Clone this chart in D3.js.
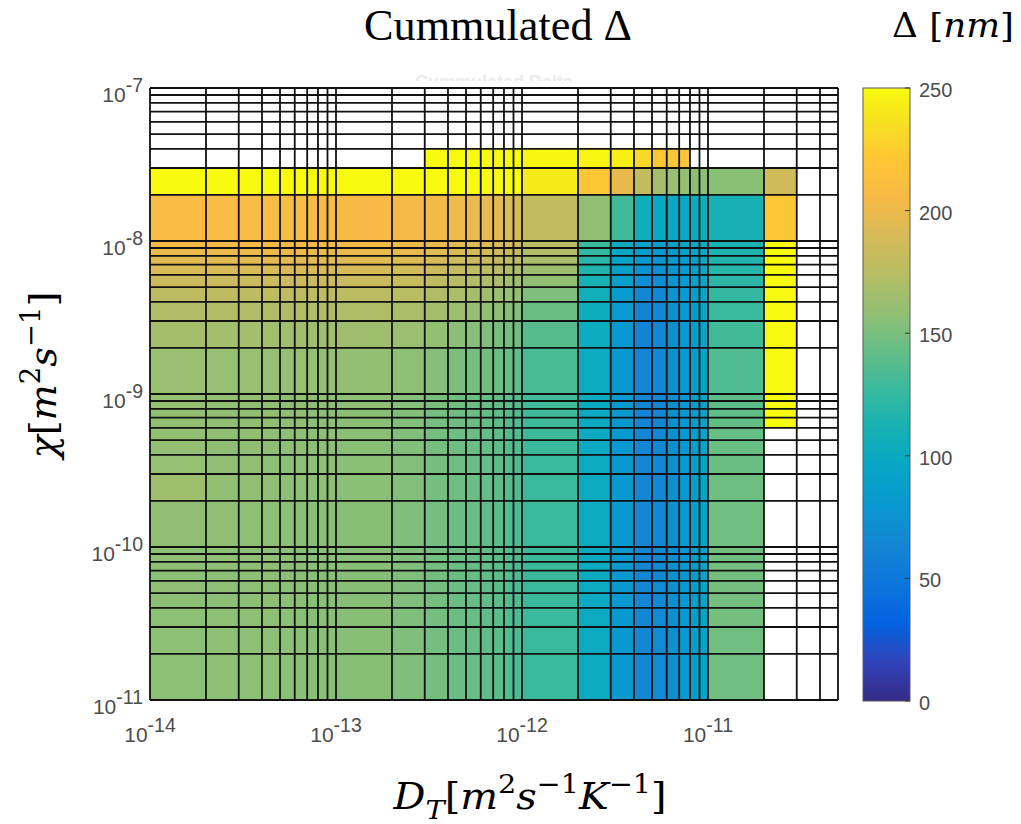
<!DOCTYPE html>
<html><head><meta charset="utf-8">
<script src="https://cdn.jsdelivr.net/npm/d3@7"></script>
<style>body{margin:0;background:#fff}</style>
</head><body>
<svg id="c" width="1021" height="824"></svg>
<script>
const N = null;
// grid edges of the pcolor cells (D_T, m^2 s^-1 K^-1)
const dtEdges = [1e-14,2e-14,3e-14,4e-14,5e-14,6e-14,7e-14,8e-14,9e-14,
  1e-13,2e-13,3e-13,4e-13,5e-13,6e-13,7e-13,8e-13,9e-13,
  1e-12,2e-12,3e-12,4e-12,5e-12,6e-12,7e-12,8e-12,9e-12,
  1e-11,2e-11,3e-11,4e-11,5e-11];
// chi edges, top to bottom (m^2 s^-1)
const chiEdges = [1e-7,9e-8,8e-8,7e-8,6e-8,5e-8,4e-8,3e-8,2e-8,
  1e-8,9e-9,8e-9,7e-9,6e-9,5e-9,4e-9,3e-9,2e-9,
  1e-9,9e-10,8e-10,7e-10,6e-10,5e-10,4e-10,3e-10,2e-10,
  1e-10,9e-11,8e-11,7e-11,6e-11,5e-11,4e-11,3e-11,2e-11,1e-11];
// cumulated Delta [nm], rows top to bottom, columns left to right
const delta = [
[N,N,N,N,N,N,N,N,N,N,N,N,N,N,N,N,N,N,N,N,N,N,N,N,N,N,N,N,N,N,N],
[N,N,N,N,N,N,N,N,N,N,N,N,N,N,N,N,N,N,N,N,N,N,N,N,N,N,N,N,N,N,N],
[N,N,N,N,N,N,N,N,N,N,N,N,N,N,N,N,N,N,N,N,N,N,N,N,N,N,N,N,N,N,N],
[N,N,N,N,N,N,N,N,N,N,N,N,N,N,N,N,N,N,N,N,N,N,N,N,N,N,N,N,N,N,N],
[N,N,N,N,N,N,N,N,N,N,N,N,N,N,N,N,N,N,N,N,N,N,N,N,N,N,N,N,N,N,N],
[N,N,N,N,N,N,N,N,N,N,N,N,N,N,N,N,N,N,N,N,N,N,N,N,N,N,N,N,N,N,N],
[N,N,N,N,N,N,N,N,N,N,N,250,250,250,250,250,250,250,248,247,244,232,222,220,218,N,N,N,N,N,N],
[250,250,250,250,250,250,250,250,250,250,250,250,250,250,250,250,250,250,241,220,198,180,167,162,160,158,157,156,186,N,N],
[207,207,207,207,207,207,206,206,206,206,205,203,201,199,197,195,193,191,180,158,130,107,98,97,99,103,106,112,220,N,N],
[205,205,205,205,205,205,205,205,205,204,202,199,196,194,192,190,188,186,176,128,100,90,86,88,92,97,102,113,250,N,N],
[200,200,200,200,200,200,200,200,200,199,197,194,191,189,187,185,183,181,172,124,96,85,80,83,88,93,99,115,250,N,N],
[195,195,195,195,195,195,195,195,195,194,192,189,186,184,182,180,178,176,168,120,92,80,76,80,85,91,97,117,250,N,N],
[190,190,190,190,190,190,190,190,190,189,187,184,181,179,177,175,173,171,163,116,89,76,73,78,84,89,96,119,250,N,N],
[184,184,184,184,184,184,184,184,184,183,181,178,175,173,171,169,167,165,158,112,86,72,70,76,82,88,95,122,250,N,N],
[178,178,178,178,178,178,178,178,178,177,175,172,169,167,165,163,161,159,152,108,83,66,66,75,81,87,94,125,250,N,N],
[172,172,172,172,172,172,172,172,172,171,169,166,163,161,159,157,155,153,145,104,81,62,64,73,80,86,94,128,250,N,N],
[167,166,166,166,165,165,165,165,165,164,162,159,156,154,152,150,148,146,138,102,80,62,64,73,80,86,93,130,250,N,N],
[162,161,161,160,160,160,160,160,160,159,157,154,151,149,147,145,143,141,133,101,80,63,65,73,80,86,93,135,250,N,N],
[160,159,159,158,158,158,158,158,158,157,154,150,147,145,143,141,139,136,130,100,80,63,65,73,80,86,93,140,250,N,N],
[160,159,158,158,158,158,158,158,158,157,154,150,147,145,143,141,139,136,130,100,80,63,65,73,80,86,93,140,250,N,N],
[159,159,158,158,158,158,157,157,157,156,153,149,146,144,142,140,138,135,129,100,80,63,65,73,80,86,93,141,250,N,N],
[159,158,158,158,157,157,157,157,157,156,153,149,146,144,142,140,138,135,129,100,80,63,65,73,80,86,93,142,250,N,N],
[159,158,158,157,157,157,157,157,157,156,153,149,146,144,142,140,138,135,129,100,80,64,66,73,80,86,93,143,N,N,N],
[160,158,158,157,157,157,157,157,157,156,153,149,146,144,142,140,138,135,128,100,80,64,66,73,80,86,93,144,N,N,N],
[161,158,158,157,157,157,157,157,157,156,153,149,146,144,142,140,138,135,128,100,80,64,66,73,80,86,93,145,N,N,N],
[164,159,158,158,157,157,157,157,157,156,153,149,146,144,142,140,138,135,128,100,80,64,66,73,80,86,93,146,N,N,N],
[158,158,157,157,157,156,156,156,156,155,152,148,145,143,141,139,137,134,128,100,80,64,66,73,80,86,93,147,N,N,N],
[157,157,157,157,157,156,156,156,156,155,152,148,145,143,141,139,137,134,128,100,80,65,67,73,80,86,93,147,N,N,N],
[158,157,157,157,157,156,156,156,156,155,152,148,145,143,141,139,137,134,128,100,80,65,67,73,80,86,93,147,N,N,N],
[157,157,157,157,156,156,156,156,156,155,152,148,145,143,141,139,137,134,128,100,80,65,67,73,80,86,93,148,N,N,N],
[157,157,157,157,157,156,156,156,156,155,152,148,145,143,141,139,137,134,128,100,80,65,67,73,80,86,93,148,N,N,N],
[158,157,157,157,157,156,156,156,156,155,152,148,145,143,141,139,137,134,128,100,80,65,67,73,80,86,93,148,N,N,N],
[157,157,157,157,157,156,156,156,156,155,152,148,145,143,141,139,137,134,128,100,80,65,67,73,80,86,93,148,N,N,N],
[157,157,157,157,157,156,156,156,156,155,152,148,145,143,141,139,137,134,128,100,80,65,67,73,80,86,93,148,N,N,N],
[157,157,157,157,157,156,156,156,156,155,152,148,145,143,141,139,137,134,128,100,80,65,67,73,80,86,93,147,N,N,N],
[157,157,157,157,157,156,156,156,156,155,152,148,145,143,141,139,137,134,128,100,80,65,67,73,80,86,93,147,N,N,N]
];
const xTicks = [1e-14,1e-13,1e-12,1e-11];
const xTickExp = ["-14","-13","-12","-11"];
const yTicks = [1e-7,1e-8,1e-9,1e-10,1e-11];
const yTickExp = ["-7","-8","-9","-10","-11"];
const cbTicks = [0,50,100,150,200,250];
const cbTickLabels = ["0","50","100","150","200","250"];
// parula colormap samples (index out of 0..63)
const parulaPos = [0,4,8,12,16,20,24,28,32,36,40,44,48,52,56,60,63];
const parulaStops = ["#352A87","#3243BA","#0363E1","#0D75DC","#1485D4","#0998D1","#06A7C6","#15B1B4",
  "#38B99E","#65BE86","#92BF73","#B7BD64","#D9BA56","#F8BA44","#FEC832","#F5E41D","#F9FB0E"];

const svg = d3.select("#c");
const x = d3.scaleLog().domain([1e-14, 5e-11]).range([150, 838]);
const y = d3.scaleLog().domain([1e-11, 1e-7]).range([700, 88]);
const cMax = 250;
const color = d3.scaleLinear().domain(parulaPos.map(p => p / 63 * cMax)).range(parulaStops).clamp(true);

// faint ghost title
const defs = svg.append("defs");
defs.append("clipPath").attr("id","ghostClip").append("rect").attr("x",0).attr("y",75).attr("width",1021).attr("height",6);
svg.append("text").attr("x",494).attr("y",88).attr("text-anchor","middle")
  .attr("font-family","Liberation Sans, Arial, sans-serif").attr("font-weight","bold").attr("font-size",18)
  .attr("fill","#ebebeb").attr("clip-path","url(#ghostClip)").text("Cummulated Delta");

// cells
const cells = [];
delta.forEach((row, i) => row.forEach((v, j) => { if (v !== null) cells.push({i, j, v}); }));
svg.append("g").attr("shape-rendering","crispEdges").selectAll("rect").data(cells).join("rect")
  .attr("x", d => x(dtEdges[d.j]))
  .attr("y", d => y(chiEdges[d.i]))
  .attr("width", d => x(dtEdges[d.j + 1]) - x(dtEdges[d.j]))
  .attr("height", d => y(chiEdges[d.i + 1]) - y(chiEdges[d.i]))
  .attr("fill", d => color(d.v));

// grid / cell edges
const grid = svg.append("g").attr("stroke","#111").attr("stroke-width",1.8);
grid.selectAll("line.v").data(dtEdges).join("line").attr("class","v")
  .attr("x1", d => x(d)).attr("x2", d => x(d)).attr("y1", y(1e-7)).attr("y2", y(1e-11));
grid.selectAll("line.h").data(chiEdges).join("line").attr("class","h")
  .attr("y1", d => y(d)).attr("y2", d => y(d)).attr("x1", x(1e-14)).attr("x2", x(5e-11));

// tick labels
const tickFont = "Liberation Sans, Arial, Helvetica, sans-serif";
const xl = svg.append("g").attr("font-family", tickFont).attr("fill","#4d4d4d");
xTicks.forEach((t, k) => {
  const tx = xl.append("text").attr("x", x(t)).attr("y", 742).attr("text-anchor","middle").attr("font-size",21);
  tx.append("tspan").text("10");
  tx.append("tspan").attr("dy",-10).attr("font-size",19.5).text(xTickExp[k]);
});
yTicks.forEach((t, k) => {
  const tx = xl.append("text").attr("x", 143).attr("y", y(t) + 14).attr("text-anchor","end").attr("font-size",21);
  tx.append("tspan").text("10");
  tx.append("tspan").attr("dy",-10).attr("font-size",19.5).text(yTickExp[k]);
});

// colorbar
const cb = d3.scaleLinear().domain([0, cMax]).range([701, 88]);
const grad = defs.append("linearGradient").attr("id","parula").attr("x1",0).attr("y1",1).attr("x2",0).attr("y2",0);
parulaPos.forEach((p, k) => grad.append("stop").attr("offset", p / 63).attr("stop-color", parulaStops[k]));
svg.append("rect").attr("x",863).attr("y",cb(cMax)).attr("width",47).attr("height",cb(0)-cb(cMax))
  .attr("fill","url(#parula)").attr("stroke","#5a5a5a").attr("stroke-width",1);
const cbg = svg.append("g");
cbg.selectAll("line").data(cbTicks).join("line")
  .attr("x1",910).attr("x2",905).attr("y1", d => cb(d)).attr("y2", d => cb(d))
  .attr("stroke","#333").attr("stroke-width",1);
cbg.selectAll("text").data(cbTicks).join("text")
  .attr("x",919).attr("y", d => cb(d) + 9).attr("font-family", tickFont).attr("font-size",20)
  .attr("fill","#4d4d4d").text((d, k) => cbTickLabels[k]);

// rich text helper: builds tspans, then stretches horizontally to the target width
function rich(text, parts, fs) {
  text.selectAll("tspan").remove();
  text.attr("font-size", fs);
  let cur = 0;
  parts.forEach(p => {
    const off = p.s === "sup" ? -0.42 * fs : p.s === "sub" ? 0.26 * fs : 0;
    const ts = text.append("tspan").attr("dy", off - cur).text(p.t);
    if (p.s === "sup" || p.s === "sub") ts.attr("font-size", 0.72 * fs);
    if (p.i) ts.attr("font-style","italic");
    cur = off;
  });
}
function label(transform, font, parts, fs, target) {
  const g = svg.append("g");
  const t = g.append("text").attr("x",0).attr("y",0).attr("text-anchor","middle")
    .attr("font-family", font).attr("fill","#000");
  rich(t, parts, fs);
  const w = t.node().getBBox().width;
  g.attr("transform", transform + ` scale(${target / w},1)`);
  return g;
}
const serif = "Liberation Serif, Times New Roman, serif";
const mathSerif = "DejaVu Serif, serif";

label("translate(498,40)", serif, [{t:"Cummulated Δ"}], 44, 268);
label("translate(953,37)", mathSerif, [{t:"Δ ["},{t:"nm",i:true},{t:"]"}], 34, 122);
label("translate(530,809)", mathSerif, [{t:"D",i:true},{t:"T",i:true,s:"sub"},{t:"["},{t:"m",i:true},{t:"2",s:"sup"},
  {t:"s",i:true},{t:"−1",s:"sup"},{t:"K",i:true},{t:"−1",s:"sup"},{t:"]"}], 37, 274);
label("translate(56,375) rotate(-90)", mathSerif, [{t:"χ",i:true},{t:"["},{t:"m",i:true},{t:"2",s:"sup"},
  {t:"s",i:true},{t:"−1",s:"sup"},{t:"]"}], 38, 170);
</script>
</body></html>
